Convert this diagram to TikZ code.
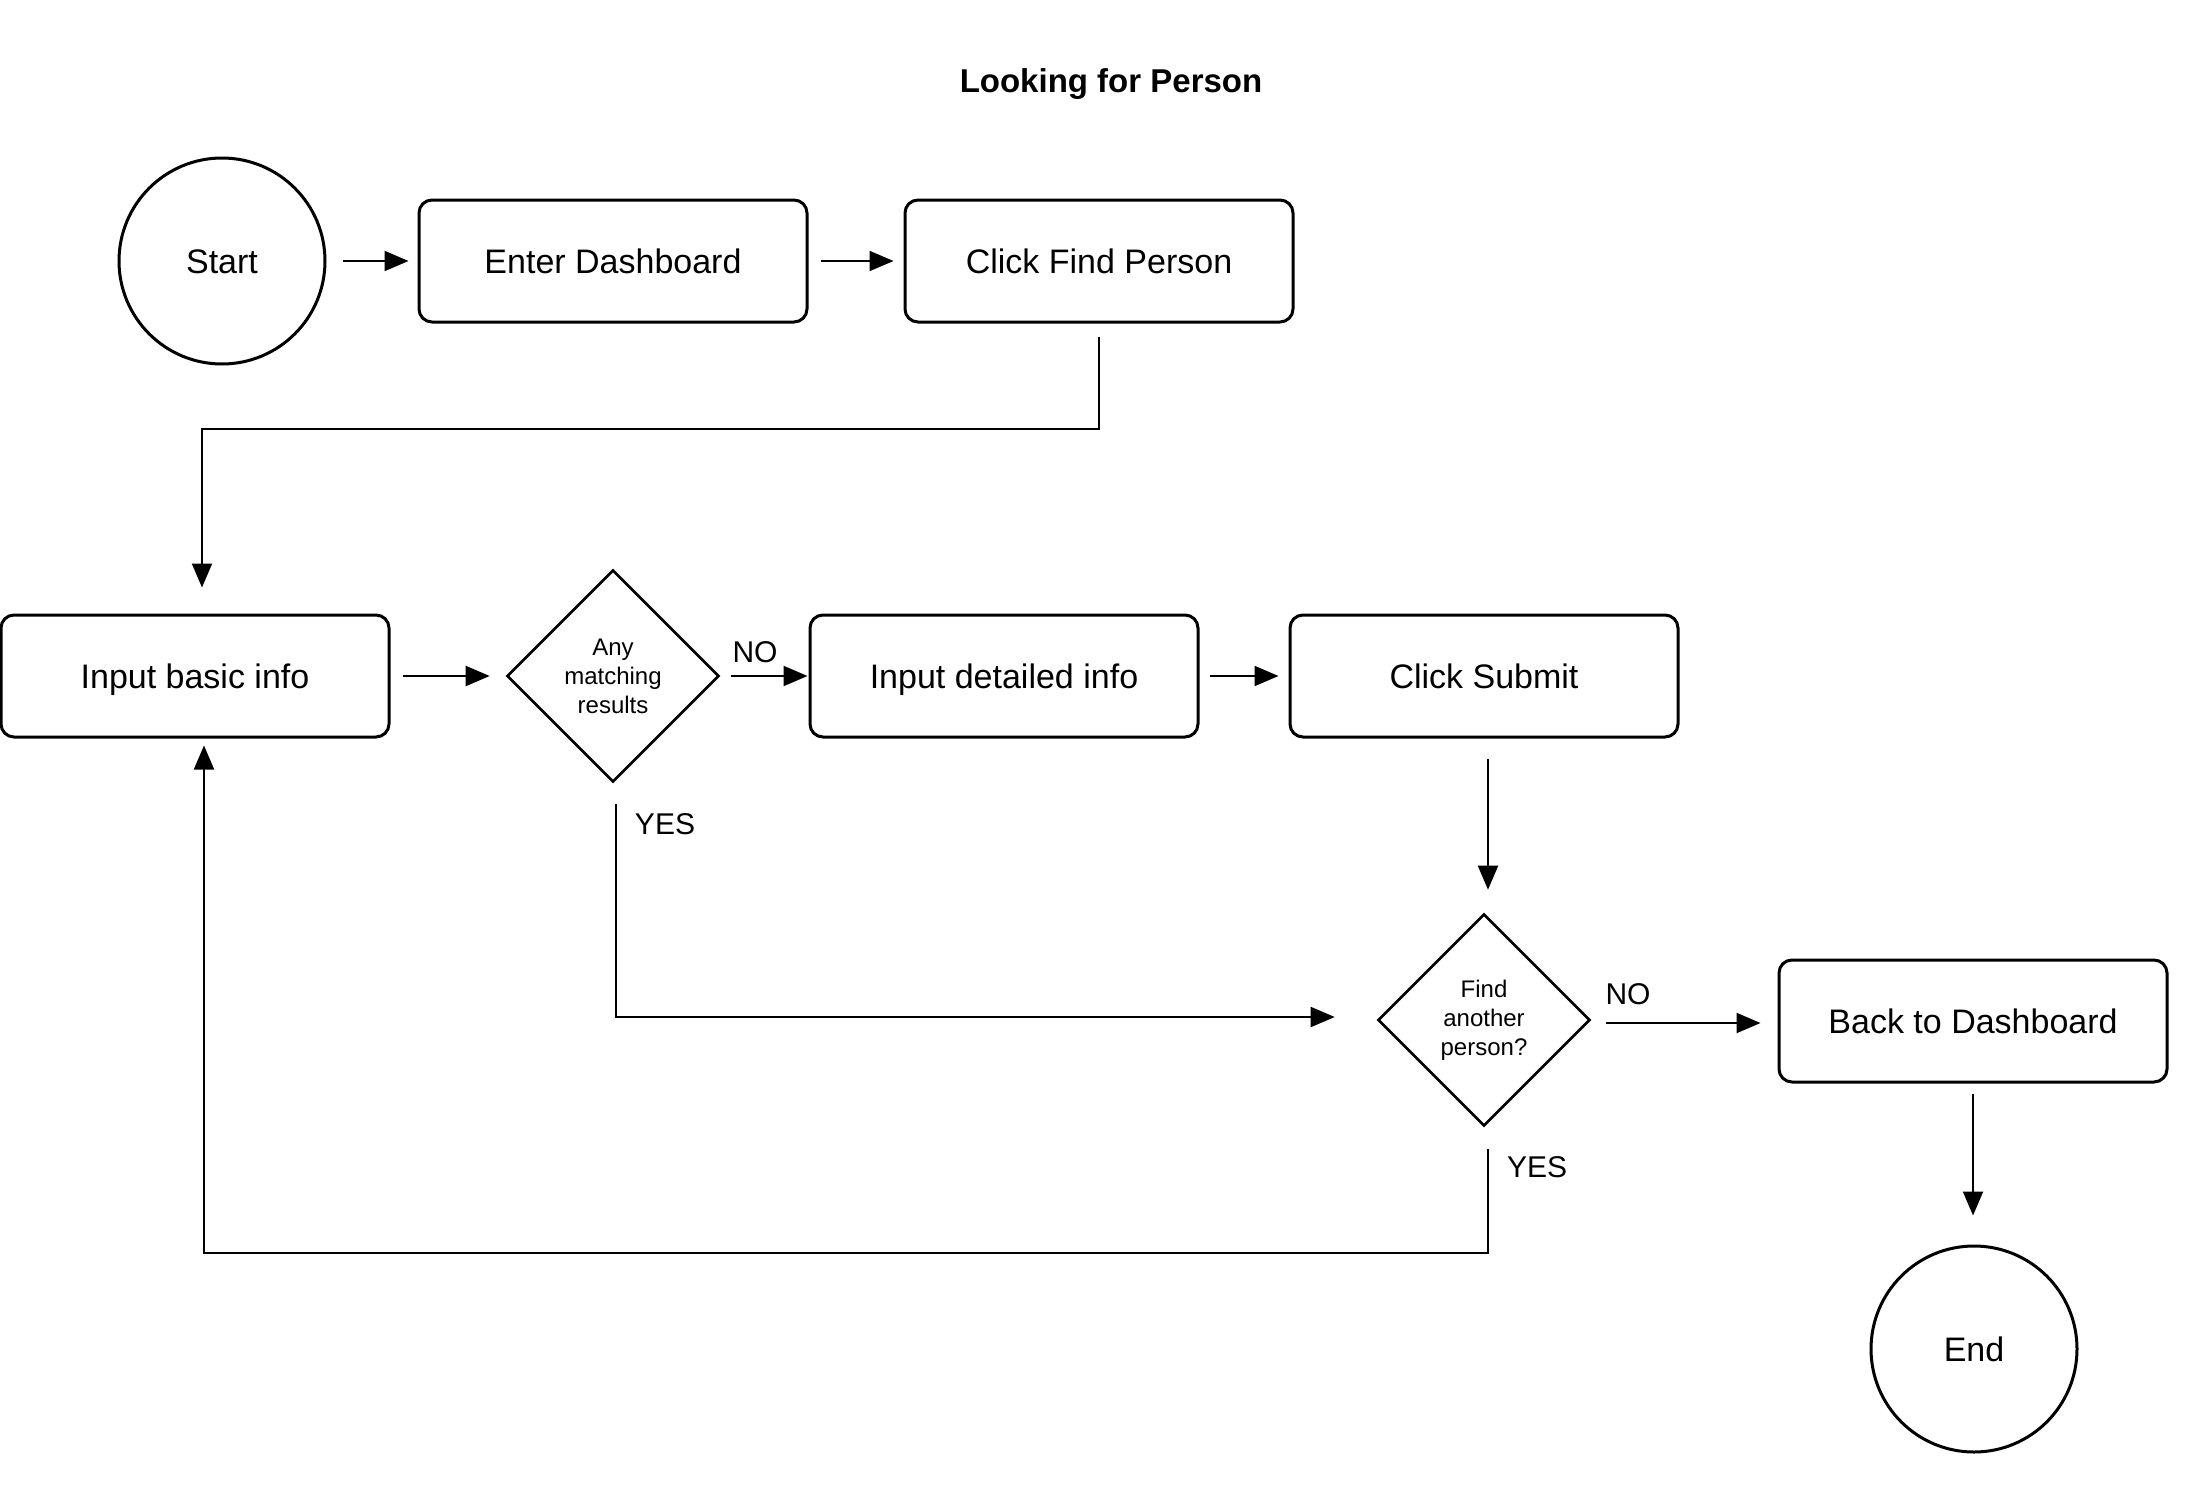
\documentclass[tikz,border=0pt]{standalone}
\usepackage{fontspec}
\setmainfont{Liberation Sans}
\usetikzlibrary{arrows.meta,shapes.geometric}
\begin{document}
\begin{tikzpicture}[x=1pt,y=-1pt,
  every node/.style={font=\fontsize{34}{40}\selectfont},
  stepbox/.style={draw,line width=3pt,rounded corners=13pt,minimum width=388pt,minimum height=122pt,inner sep=0pt,
    text height=25pt,text depth=0pt},
  terminal/.style={draw,line width=3pt,circle,minimum size=206pt,inner sep=0pt,text height=25pt,text depth=0pt},
  decision/.style={draw,line width=2.6pt,diamond,minimum width=212pt,minimum height=212pt,inner sep=0pt,align=center,
    font=\fontsize{24}{29}\selectfont},
  flow/.style={line width=2pt,-{Triangle[length=24pt,width=20pt]}},
  lbl/.style={font=\fontsize{30}{36}\selectfont}]
\useasboundingbox[fill=white] (0,0) rectangle (2189,1507);

\node[font=\fontsize{33}{38}\selectfont\bfseries] (title) at (1111,84) {Looking for Person};

% shapes
\node[terminal] (start) at (222,261) {Start};
\node[stepbox] (enter) at (613,261) {Enter Dashboard};
\node[stepbox] (find) at (1099,261) {Click Find Person};
\node[stepbox] (basic) at (195,676) {Input basic info};
\node[decision] (match) at (613,676) {Any\\matching\\results};
\node[stepbox] (detail) at (1004,676) {Input detailed info};
\node[stepbox] (submit) at (1484,676) {Click Submit};
\node[decision] (again) at (1484,1020) {Find\\another\\person?};
\node[stepbox] (back) at (1973,1021) {Back to Dashboard};
\node[terminal] (end) at (1974,1349) {End};

% connectors
\draw[flow,shorten <=16pt,shorten >=9pt] (start) -- (enter);
\draw[flow,shorten <=12pt,shorten >=10pt] (enter) -- (find);
\draw[flow,shorten <=13pt,shorten >=26pt] (find.south) -- ++(0,105) -| ([xshift=7pt]basic.north);
\draw[flow,shorten <=12pt,shorten >=16pt] (basic) -- (match);
\draw[flow,shorten <=11pt,shorten >=1pt] (match) -- (detail);
\draw[flow,shorten <=10pt,shorten >=10pt] (detail) -- (submit);
\draw[flow,shorten <=20pt,shorten >=23pt] ([xshift=4pt]submit.south) -- ([xshift=4pt]again.north);
\draw[flow,shorten <=15pt,shorten >=17pt] ([yshift=-3pt]again.east) -- ([yshift=-3pt]again.east -| back.west);
\draw[flow,shorten <=10pt,shorten >=29pt] (back.south) -- (back.south |- end.north);
\draw[flow,shorten <=21pt,shorten >=42pt] ([xshift=3pt]match.south) |- ([yshift=3pt]again.west);
\draw[flow,shorten <=22pt,shorten >=7pt] ([xshift=4pt]again.south) -- ++(0,126) -| ([xshift=9pt]basic.south);

% branch labels
\node[lbl] (no1) at (755,652) {NO};
\node[lbl] (yes1) at (665,824) {YES};
\node[lbl] (no2) at (1628,994) {NO};
\node[lbl] (yes2) at (1537,1167) {YES};
\end{tikzpicture}
\end{document}
